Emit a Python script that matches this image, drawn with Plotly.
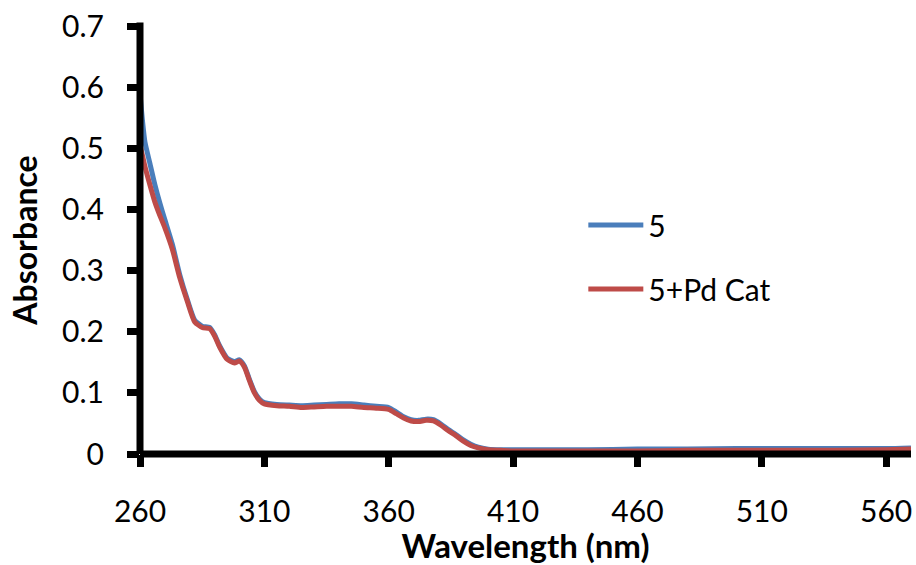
import plotly.graph_objects as go

wavelength = [260, 261, 262, 264, 266, 268, 270, 273, 276, 279, 282, 285, 288, 290, 292, 295, 298, 300,
              302, 304, 306, 308, 310, 315, 320, 325, 330, 335, 340, 345, 350, 355, 360, 363, 366, 369,
              372, 375, 378, 381, 384, 387, 390, 393, 396, 400, 405, 410, 420, 440, 460, 480, 500, 520,
              540, 560, 570]

abs_5 = [0.590, 0.545, 0.510, 0.475, 0.440, 0.410, 0.383, 0.343, 0.293, 0.253, 0.219, 0.209, 0.207,
         0.195, 0.177, 0.157, 0.151, 0.154, 0.144, 0.122, 0.102, 0.090, 0.084, 0.081, 0.080, 0.079,
         0.080, 0.081, 0.082, 0.082, 0.080, 0.078, 0.076, 0.069, 0.061, 0.056, 0.055, 0.057, 0.056,
         0.049, 0.040, 0.032, 0.023, 0.016, 0.011, 0.008, 0.007, 0.007, 0.007, 0.007, 0.008, 0.008,
         0.009, 0.009, 0.009, 0.009, 0.010]

abs_5_pd = [0.505, 0.488, 0.470, 0.440, 0.412, 0.390, 0.370, 0.335, 0.288, 0.250, 0.216, 0.207, 0.205,
            0.193, 0.175, 0.155, 0.149, 0.152, 0.142, 0.120, 0.100, 0.088, 0.082, 0.079, 0.078, 0.076,
            0.077, 0.078, 0.078, 0.078, 0.076, 0.075, 0.073, 0.066, 0.059, 0.054, 0.053, 0.055, 0.054,
            0.047, 0.038, 0.030, 0.021, 0.014, 0.010, 0.007, 0.006, 0.005, 0.005, 0.005, 0.005, 0.006,
            0.006, 0.006, 0.006, 0.007, 0.008]

series_names = ["5", "5+Pd Cat"]
x_ticks = [260, 310, 360, 410, 460, 510, 560]
y_ticks = [0, 0.1, 0.2, 0.3, 0.4, 0.5, 0.6, 0.7]

BLUE = "#4A7EBB"
RED = "#BE4B48"
FONT = "Lato"

fig = go.Figure()
fig.add_trace(go.Scatter(x=wavelength, y=abs_5, mode="lines", name=series_names[0],
                         legendgroup="a",
                         line=dict(color=BLUE, width=5, shape="spline", smoothing=0.6)))
fig.add_trace(go.Scatter(x=wavelength, y=abs_5_pd, mode="lines", name=series_names[1],
                         legendgroup="b",
                         line=dict(color=RED, width=5, shape="spline", smoothing=0.6)))

axis_common = dict(showgrid=False, zeroline=False, showline=False,
                   ticks="outside", ticklen=12, tickwidth=7, tickcolor="black",
                   tickfont=dict(family=FONT, size=30, color="black"))

fig.update_xaxes(range=[260, 570], tickmode="array", tickvals=x_ticks,
                 ticktext=[str(v) for v in x_ticks],
                 ticklabelstandoff=19,
                 title=dict(text="<b>Wavelength (nm)</b>", font=dict(family=FONT, size=33, color="black"),
                            standoff=6),
                 **axis_common)
fig.update_yaxes(range=[0, 0.7], tickmode="array", tickvals=y_ticks,
                 ticktext=["0"] + [f"{v:.1f}" for v in y_ticks[1:]],
                 ticklabelstandoff=17,
                 title=dict(text="<b>Absorbance</b>", font=dict(family=FONT, size=32, color="black"),
                            standoff=14),
                 **axis_common)

# axis lines drawn centered on the plot edges
fig.add_shape(type="line", xref="paper", yref="paper", x0=0, x1=1, y0=0, y1=0,
              line=dict(color="black", width=7))
fig.add_shape(type="line", xref="paper", yref="paper", x0=0, x1=0, y0=0, y1=1.008,
              line=dict(color="black", width=7))

fig.update_layout(
    width=916, height=565,
    margin=dict(l=139.5, r=5, t=25.5, b=110.5, pad=0),
    paper_bgcolor="white", plot_bgcolor="white",
    font=dict(family=FONT, color="black"),
    showlegend=True,
    legend=dict(x=0.575, y=0.46, xanchor="left", yanchor="middle",
                font=dict(family=FONT, size=30, color="black"),
                traceorder="grouped", tracegroupgap=22, itemwidth=55,
                bgcolor="rgba(0,0,0,0)"),
)

fig.write_html("out.html")
